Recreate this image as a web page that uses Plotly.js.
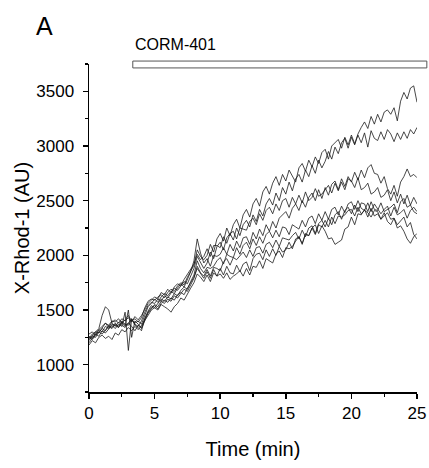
<!DOCTYPE html>
<html>
<head>
<meta charset="utf-8">
<script src="https://cdn.plot.ly/plotly-3.0.1.min.js"></script>
<style>html,body{margin:0;padding:0;background:#fff}#chart{width:429px;height:468px}</style>
</head>
<body>
<div id="chart"></div>
<script>
var timeMin = [0,0.25,0.5,0.75,1,1.25,1.5,1.75,2,2.25,2.5,2.75,3,3.25,3.5,3.75,4,4.25,4.5,4.75,5,5.25,5.5,5.75,6,6.25,6.5,6.75,7,7.25,7.5,7.75,8,8.25,8.5,8.75,9,9.25,9.5,9.75,10,10.25,10.5,10.75,11,11.25,11.5,11.75,12,12.25,12.5,12.75,13,13.25,13.5,13.75,14,14.25,14.5,14.75,15,15.25,15.5,15.75,16,16.25,16.5,16.75,17,17.25,17.5,17.75,18,18.25,18.5,18.75,19,19.25,19.5,19.75,20,20.25,20.5,20.75,21,21.25,21.5,21.75,22,22.25,22.5,22.75,23,23.25,23.5,23.75,24,24.25,24.5,24.75,25];

var cellA = [1230,1270,1300,1290,1340,1380,1360,1400,1390,1420,1380,1410,1450,1400,1420,1390,1430,1520,1580,1600,1590,1620,1640,1610,1660,1690,1670,1720,1750,1730,1800,1860,1910,2050,1990,1960,2000,2100,2030,2150,2200,2130,2250,2180,2280,2330,2250,2370,2420,2350,2470,2520,2450,2580,2630,2560,2660,2720,2640,2740,2680,2780,2720,2670,2800,2840,2770,2870,2810,2900,2840,2940,2970,2880,3000,3030,3060,2980,3080,3010,3100,3020,3110,3170,3220,3160,3270,3200,3290,3220,3310,3330,3290,3350,3230,3410,3490,3430,3530,3550,3400];
var cellB = [1260,1240,1290,1320,1300,1350,1330,1370,1360,1340,1390,1360,1380,1420,1370,1350,1400,1480,1540,1570,1560,1600,1580,1630,1610,1650,1700,1680,1720,1760,1740,1810,1880,1990,1930,1880,1930,2030,1970,2080,2120,2050,2160,2200,2140,2250,2180,2280,2320,2260,2370,2310,2420,2360,2470,2520,2460,2570,2500,2620,2560,2670,2590,2700,2740,2670,2780,2720,2820,2750,2870,2800,2860,2950,2880,2990,2930,3030,3070,2980,3080,3010,3100,3030,3120,2990,3140,3070,3050,3130,3060,3150,3110,3040,3120,3060,3130,3070,3150,3110,3170];
var cellC = [1220,1260,1250,1300,1330,1310,1360,1340,1380,1350,1400,1370,1360,1410,1380,1400,1370,1460,1530,1560,1600,1570,1620,1650,1630,1670,1650,1700,1740,1710,1780,1850,1950,2150,2020,1930,1970,1900,2000,1990,2010,2070,2010,2100,2040,2130,2070,2160,2170,2100,2210,2150,2240,2180,2280,2220,2310,2250,2340,2370,2400,2340,2430,2470,2410,2500,2440,2530,2570,2500,2600,2520,2620,2550,2650,2680,2600,2700,2630,2720,2670,2760,2690,2780,2710,2800,2830,2750,2740,2660,2720,2610,2560,2640,2540,2670,2720,2790,2720,2740,2710];
var cellD = [1280,1300,1270,1320,1350,1380,1340,1390,1410,1380,1420,1400,1430,1390,1440,1410,1450,1500,1560,1590,1620,1600,1660,1640,1690,1660,1710,1740,1720,1780,1830,1880,1920,2010,1960,1990,2060,1990,2090,2090,2070,2170,2110,2200,2220,2150,2250,2240,2230,2310,2340,2280,2380,2320,2410,2440,2380,2470,2410,2500,2520,2440,2530,2470,2550,2480,2580,2500,2530,2610,2540,2560,2600,2640,2570,2660,2590,2670,2600,2700,2680,2620,2710,2600,2620,2660,2560,2580,2620,2530,2550,2600,2500,2580,2480,2560,2470,2550,2460,2530,2470];
var cellE = [1200,1240,1280,1260,1310,1290,1330,1360,1330,1370,1350,1480,1130,1420,1360,1340,1310,1420,1490,1540,1520,1560,1600,1580,1620,1600,1650,1630,1680,1710,1690,1760,1820,1950,1880,1840,1890,1880,1900,1950,1980,1920,2010,1990,1980,2070,2010,2090,2120,2060,2150,2090,2170,2110,2190,2220,2160,2230,2170,2260,2250,2190,2280,2260,2240,2320,2260,2340,2360,2290,2380,2320,2400,2330,2420,2440,2370,2450,2390,2470,2490,2420,2500,2430,2410,2480,2400,2470,2430,2380,2420,2450,2360,2440,2370,2390,2420,2340,2410,2440,2400];
var cellF = [1250,1230,1270,1300,1280,1320,1350,1330,1370,1340,1380,1350,1500,1250,1400,1370,1330,1400,1470,1510,1550,1530,1580,1560,1600,1580,1630,1610,1650,1690,1670,1730,1790,1900,1840,1810,1870,1810,1890,1880,1860,1940,1970,1910,1980,1960,2000,2030,1980,2050,1990,2070,2080,2020,2100,2120,2070,2140,2080,2160,2150,2140,2180,2210,2150,2230,2170,2250,2270,2200,2290,2320,2260,2340,2280,2370,2400,2330,2410,2440,2380,2460,2400,2480,2470,2400,2490,2420,2410,2480,2400,2420,2440,2470,2390,2490,2520,2440,2460,2400,2380];
var cellG = [1240,1280,1300,1330,1450,1530,1500,1380,1350,1390,1360,1340,1380,1350,1310,1360,1340,1420,1480,1520,1540,1510,1560,1590,1570,1610,1590,1640,1660,1640,1700,1750,1800,1880,1830,1790,1850,1790,1870,1810,1880,1820,1900,1840,1830,1910,1850,1920,1940,1860,1970,2010,2020,1960,2050,1990,2060,2000,2080,2030,2050,2120,2060,2150,2170,2100,2200,2180,2250,2280,2200,2270,2220,2150,2160,2100,2120,2140,2240,2260,2350,2280,2380,2370,2420,2350,2430,2360,2380,2330,2360,2390,2330,2340,2280,2320,2350,2260,2300,2190,2150];
var cellH = [1180,1220,1200,1250,1270,1240,1260,1230,1290,1270,1320,1300,1340,1310,1350,1320,1360,1400,1450,1500,1520,1500,1550,1530,1510,1480,1530,1560,1610,1590,1650,1700,1750,1830,1800,1760,1820,1760,1840,1810,1830,1790,1840,1780,1810,1830,1860,1810,1880,1820,1900,1890,1950,1880,1970,1950,1930,2010,2040,1980,2070,2060,2080,2130,2170,2110,2190,2180,2250,2190,2280,2260,2320,2260,2350,2290,2360,2350,2370,2410,2420,2360,2440,2380,2410,2390,2350,2410,2400,2330,2390,2310,2280,2340,2250,2270,2220,2150,2110,2170,2200];

var cells = [cellA, cellB, cellC, cellD, cellE, cellF, cellG, cellH];
var xTickVals = [0, 5, 10, 15, 20, 25];
var yTickVals = [1000, 1500, 2000, 2500, 3000, 3500];
var barLabel = 'CORM-401';
var panelLabel = 'A';

var traces = cells.map(function (vals) {
  return {
    x: timeMin, y: vals, type: 'scatter', mode: 'lines',
    line: {color: '#1a1a1a', width: 0.8},
    hoverinfo: 'skip', showlegend: false
  };
});

var font = 'Liberation Sans, Arial, sans-serif';
var layout = {
  width: 429, height: 468,
  margin: {l: 89, r: 12, t: 64, b: 76, pad: 0},
  paper_bgcolor: '#fff', plot_bgcolor: '#fff',
  showlegend: false,
  font: {family: font, color: '#000', size: 16},
  xaxis: {
    range: [0, 25], tickvals: xTickVals, ticktext: xTickVals.map(String),
    showline: true, linecolor: '#000', linewidth: 1.5,
    ticks: 'outside', ticklen: 5, tickwidth: 1.5, tickcolor: '#000',
    minor: {dtick: 2.5, tick0: 0, ticks: 'outside', ticklen: 3, tickwidth: 1.2, tickcolor: '#000'},
    showgrid: false, zeroline: false,
    tickfont: {family: font, size: 17},
    title: {text: 'Time (min)', font: {family: font, size: 20}, standoff: 20}
  },
  yaxis: {
    range: [750, 3750], tickvals: yTickVals, ticktext: yTickVals.map(String),
    showline: true, linecolor: '#000', linewidth: 1.5,
    ticks: 'outside', ticklen: 5, tickwidth: 1.5, tickcolor: '#000',
    ticklabelstandoff: 5,
    minor: {dtick: 250, tick0: 750, ticks: 'outside', ticklen: 3, tickwidth: 1.2, tickcolor: '#000'},
    showgrid: false, zeroline: false,
    tickfont: {family: font, size: 17},
    title: {text: 'X-Rhod-1 (AU)', font: {family: font, size: 20}, standoff: 1}
  },
  shapes: [{
    type: 'rect', xref: 'paper', yref: 'paper',
    x0: 0.1335, x1: 1.03, y0: 0.988, y1: 1.009,
    line: {color: '#555', width: 1}, fillcolor: '#fff'
  }],
  annotations: [
    {text: barLabel, xref: 'paper', yref: 'paper', x: 0.1335, y: 1.058,
     xanchor: 'left', yanchor: 'middle', showarrow: false, font: {family: font, size: 16}},
    {text: panelLabel, xref: 'paper', yref: 'paper', x: -0.168, y: 1.115,
     xanchor: 'left', yanchor: 'middle', showarrow: false, font: {family: font, size: 25}}
  ]
};

Plotly.newPlot('chart', traces, layout, {staticPlot: true, displayModeBar: false});
</script>
</body>
</html>
